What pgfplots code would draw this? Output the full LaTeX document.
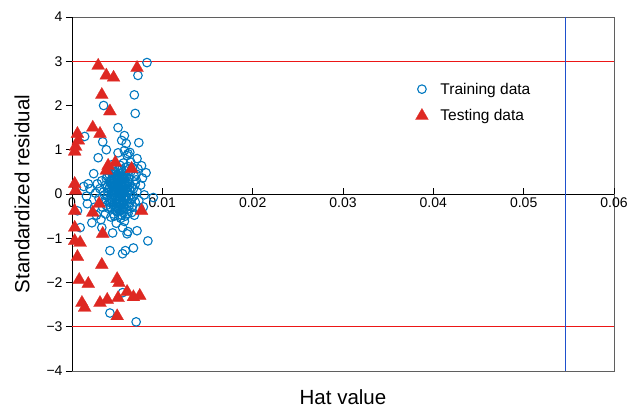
\documentclass[border=0pt]{standalone}
\usepackage{fontspec}
\setmainfont{Liberation Sans}
\usepackage{pgfplots}
\pgfplotsset{compat=1.18}
\usepackage{pgfplotstable}

\definecolor{trainblue}{RGB}{0,120,192}
\definecolor{testred}{RGB}{222,40,34}
\definecolor{limred}{RGB}{236,22,22}
\definecolor{hatblue}{RGB}{30,80,205}
\definecolor{framegray}{RGB}{95,95,95}

% hat value / standardized residual, training set
\pgfplotstableread{
h r
0.0083 2.97
0.0073 2.68
0.0069 2.24
0.0070 1.82
0.0035 2.00
0.0051 1.50
0.0014 1.30
0.0058 1.32
0.0034 1.18
0.0055 1.21
0.0060 1.14
0.0074 1.16
0.0038 1.00
0.0058 0.98
0.0064 0.94
0.0061 0.87
0.0062 0.91
0.0051 0.93
0.0029 0.82
0.0072 0.80
0.0077 0.64
0.0082 0.48
0.0073 0.57
0.0024 0.46
0.0018 0.23
0.0028 0.23
0.0020 0.12
0.0013 0.17
0.0026 0.02
0.0016 -0.05
0.0090 -0.08
0.0079 -0.29
0.0022 -0.65
0.0009 -0.76
0.0006 -0.38
0.0017 -0.22
0.0027 -0.48
0.0033 -0.76
0.0045 -0.88
0.0056 -0.76
0.0061 -0.90
0.0062 -0.85
0.0072 -0.83
0.0084 -1.06
0.0042 -1.28
0.0059 -1.28
0.0056 -1.35
0.0068 -1.22
0.0056 -2.23
0.0042 -2.69
0.0071 -2.89
0.0050 -0.38
0.0052 0.05
0.0050 0.12
0.0055 -0.03
0.0048 -0.08
0.0057 0.15
0.0053 0.22
0.0046 0.18
0.0059 -0.12
0.0051 -0.18
0.0044 0.02
0.0062 0.04
0.0049 0.30
0.0056 0.33
0.0043 -0.20
0.0060 0.25
0.0047 -0.28
0.0054 -0.30
0.0064 -0.20
0.0041 0.12
0.0066 0.14
0.0052 0.40
0.0045 0.38
0.0058 0.45
0.0039 -0.05
0.0068 -0.05
0.0050 -0.40
0.0057 -0.42
0.0042 0.28
0.0063 0.35
0.0037 0.20
0.0070 0.22
0.0048 0.50
0.0055 0.55
0.0061 -0.35
0.0040 -0.32
0.0053 0.10
0.0051 -0.10
0.0054 0.00
0.0049 0.06
0.0056 0.08
0.0047 0.10
0.0058 0.02
0.0045 -0.14
0.0060 -0.06
0.0052 -0.22
0.0050 0.20
0.0055 0.27
0.0043 0.24
0.0062 0.16
0.0046 -0.02
0.0059 0.10
0.0053 -0.14
0.0048 0.16
0.0057 -0.20
0.0044 0.08
0.0064 0.08
0.0051 0.35
0.0035 0.05
0.0072 0.05
0.0038 0.35
0.0069 0.40
0.0036 -0.18
0.0067 -0.28
0.0041 0.45
0.0065 0.50
0.0046 -0.45
0.0059 -0.50
0.0033 0.30
0.0074 -0.15
0.0049 0.60
0.0062 0.62
0.0040 0.55
0.0054 -0.55
0.0043 -0.52
0.0066 -0.42
0.0071 0.32
0.0034 -0.30
0.0052 0.28
0.0047 0.26
0.0058 0.36
0.0044 0.34
0.0061 -0.14
0.0039 0.15
0.0068 0.12
0.0050 -0.30
0.0056 -0.35
0.0042 -0.10
0.0063 -0.28
0.0054 0.45
0.0045 0.47
0.0060 0.52
0.0048 -0.36
0.0076 0.20
0.0031 0.12
0.0075 -0.32
0.0037 -0.45
0.0069 -0.48
0.0053 0.65
0.0057 0.70
0.0044 0.66
0.0065 0.72
0.0058 -0.62
0.0049 -0.66
0.0067 0.60
0.0030 -0.10
0.0032 -0.58
0.0025 -0.30
0.0078 0.36
0.0080 -0.02
0.0051 0.02
0.0053 0.07
0.0055 0.12
0.0050 -0.04
0.0054 -0.08
0.0052 0.16
0.0049 -0.14
0.0056 -0.16
0.0053 -0.04
0.0051 0.25
0.0055 0.20
0.0048 0.22
0.0057 0.05
0.0047 0.04
0.0054 0.30
0.0050 0.32
0.0052 -0.28
0.0055 -0.24
0.0049 -0.22
0.0058 -0.08
0.0046 0.08
0.0059 0.18
0.0045 0.24
0.0060 0.12
0.0044 -0.06
0.0061 -0.22
0.0053 0.36
0.0056 0.40
0.0050 0.44
0.0047 0.34
0.0058 0.28
0.0046 -0.24
0.0057 -0.30
0.0052 -0.36
0.0054 0.18
0.0051 0.08
0.0056 0.00
0.0049 0.12
0.0053 -0.20
0.0055 0.36
0.0048 0.40
0.0060 0.38
0.0062 0.28
0.0063 -0.10
0.0042 0.16
0.0043 -0.30
0.0065 -0.02
0.0064 0.22
0.0040 0.04
0.0041 -0.18
0.0066 -0.12
0.0045 0.52
0.0059 0.60
0.0052 0.55
0.0047 -0.50
0.0055 -0.48
0.0062 -0.44
0.0039 0.40
0.0036 -0.02
0.0070 -0.18
0.0071 0.45
0.0038 -0.26
}\traindata

% hat value / standardized residual, testing set
\pgfplotstableread{
h r
0.0029 2.90
0.0038 2.68
0.0046 2.63
0.0072 2.85
0.0033 2.24
0.0042 1.87
0.0023 1.50
0.0031 1.36
0.0006 1.36
0.0007 1.21
0.0004 1.07
0.0003 0.96
0.0040 0.64
0.0048 0.71
0.0038 0.53
0.0066 0.57
0.0003 0.23
0.0004 0.08
0.0030 -0.22
0.0023 -0.42
0.0077 -0.38
0.0034 -0.90
0.0003 -0.38
0.0003 -0.76
0.0003 -1.06
0.0009 -1.10
0.0006 -1.42
0.0033 -1.60
0.0008 -1.94
0.0018 -2.03
0.0050 -1.92
0.0052 -2.01
0.0061 -2.21
0.0068 -2.33
0.0075 -2.30
0.0051 -2.35
0.0039 -2.39
0.0031 -2.46
0.0011 -2.46
0.0014 -2.57
0.0050 -2.76
}\testdata

\begin{document}
\begin{tikzpicture}
\pgfplotsset{
  every axis/.append style={
    scale only axis, width=542pt, height=354pt,
    xmin=0, xmax=0.06, ymin=-4, ymax=4,
  },
}
% outer frame
\begin{axis}[
  axis line style={framegray, line width=0.8pt},
  xtick=\empty, ytick=\empty,
]
\end{axis}

\begin{axis}[
  axis x line=middle, axis y line=left,
  axis line style={black, line width=0.8pt, -},
  hide obscured x ticks=false, hide obscured y ticks=false,
  scaled x ticks=false,
  xtick={0,0.01,0.02,0.03,0.04,0.05,0.06},
  xticklabels={0,0.01,0.02,0.03,0.04,0.05,0.06},
  ytick={-4,-3,-2,-1,0,1,2,3,4},
  yticklabels={−4,−3,−2,−1,0,1,2,3,4},
  xtick align=inside, ytick align=outside,
  major tick length=6pt,
  tick style={black, line width=0.9pt},
  ticklabel style={font=\fontsize{14}{16}\selectfont},
  xlabel={Hat value}, ylabel={Standardized residual},
  every axis x label/.style={at={(axis description cs:0.5,-0.0734)}, anchor=center,
    font=\fontsize{20.5}{24}\selectfont},
  every axis y label/.style={at={(axis description cs:-0.0923,0.5)}, anchor=center,
    rotate=90, font=\fontsize{20.5}{24}\selectfont},
  clip=false,
  legend cell align=left,
  legend image code/.code={
    \draw[#1] plot coordinates {(0.3cm,0cm)};
    \path[draw=none] (0cm,0cm) (0.88cm,0cm);
  },
  legend style={at={(0.624,0.826)}, anchor=north west, draw=none, fill=none,
    font=\fontsize{15.5}{18}\selectfont, row sep=10pt},
]
% warning limits
\addplot[limred, line width=0.8pt, forget plot] coordinates {(0,3) (0.06,3)};
\addplot[limred, line width=0.8pt, forget plot] coordinates {(0,-3) (0.06,-3)};
\addplot[hatblue, line width=1pt, forget plot] coordinates {(0.0546,-4) (0.0546,4)};

\addplot[only marks, mark=o, mark size=4.3pt, draw=trainblue, mark options={line width=1.1pt}]
  table[x=h, y=r] {\traindata};
\addlegendentry{Training data}
\addplot[only marks, mark=triangle*, mark size=7.5pt, color=testred, mark options={line width=0.2pt}]
  table[x=h, y=r] {\testdata};
\addlegendentry{Testing data}
\end{axis}
\pgfresetboundingbox
\path ([shift={(-72pt,-37pt)}]current axis.south west)
  rectangle ([shift={(16pt,17pt)}]current axis.north east);
\end{tikzpicture}
\end{document}
